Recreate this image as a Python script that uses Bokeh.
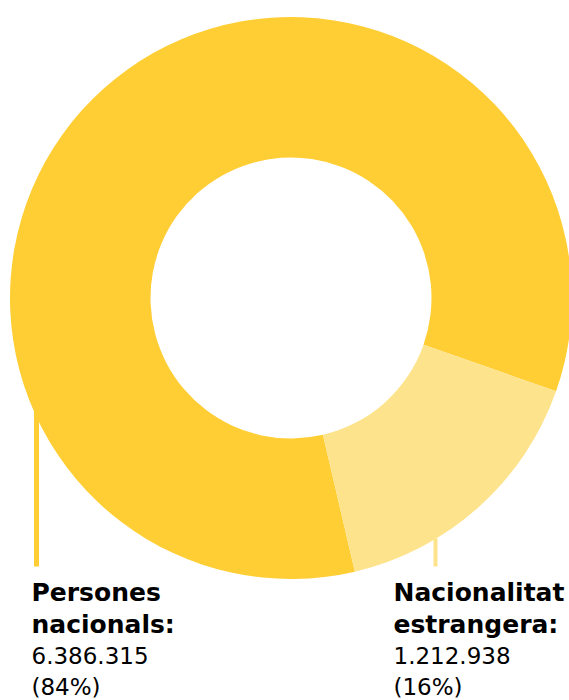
import math
from bokeh.plotting import figure
from bokeh.models import Range1d
from bokeh.core.properties import value
from bokeh.embed import file_html
from bokeh.resources import INLINE

# ---- data ----
categories = ["Persones nacionals", "Nacionalitat estrangera"]
label_lines = [["Persones", "nacionals:"], ["Nacionalitat", "estrangera:"]]
values = [6386315, 1212938]
colors = ["#FFCE34", "#FDE38B"]

total = sum(values)
fracs = [v / total for v in values]

def fmt(n):
    return f"{n:,}".replace(",", ".")

# ---- figure in page-pixel coordinates (y up: y = 700 - screen_y) ----
W, H = 569, 700
p = figure(width=W, height=H, output_backend="svg", toolbar_location=None,
           x_range=Range1d(0, W), y_range=Range1d(0, H),
           min_border=0, outline_line_color=None, background_fill_color="white")
p.axis.visible = False
p.grid.visible = False

cx, cy = 290.5, H - 297.5
r_out, r_in = 281, 140.5
start = math.radians(-19.4)

starts, ends = [], []
a = start
for f in fracs:
    starts.append(a)
    a += f * 2 * math.pi
    ends.append(a)

p.annular_wedge(x=[cx] * 2, y=[cy] * 2, inner_radius=r_in, outer_radius=r_out,
                start_angle=starts, end_angle=ends, direction="anticlock",
                fill_color=colors, line_color=None)

# leader lines
p.segment(x0=[36], y0=[H - 410], x1=[36], y1=[H - 566], line_color=colors[0], line_width=5)
p.segment(x0=[435], y0=[H - 538], x1=[435], y1=[H - 566], line_color=colors[1], line_width=4)

# labels
text_x = [31, 393]
baselines = [592, 623.5, 655, 686]
for i in range(2):
    pct = f"({round(fracs[i] * 100)}%)"
    p.text(x=[text_x[i]] * 2, y=[H - baselines[0], H - baselines[1]],
           text=label_lines[i], text_font=value("DejaVu Sans"), text_font_style="bold",
           text_font_size="25px", text_color="#000000", text_baseline="alphabetic")
    p.text(x=[text_x[i]] * 2, y=[H - baselines[2], H - baselines[3]],
           text=[fmt(values[i]), pct], text_font=value("DejaVu Sans"),
           text_font_style="normal", text_font_size="23px", text_color="#000000",
           text_baseline="alphabetic")

open("out.html", "w").write(file_html(p, INLINE))
